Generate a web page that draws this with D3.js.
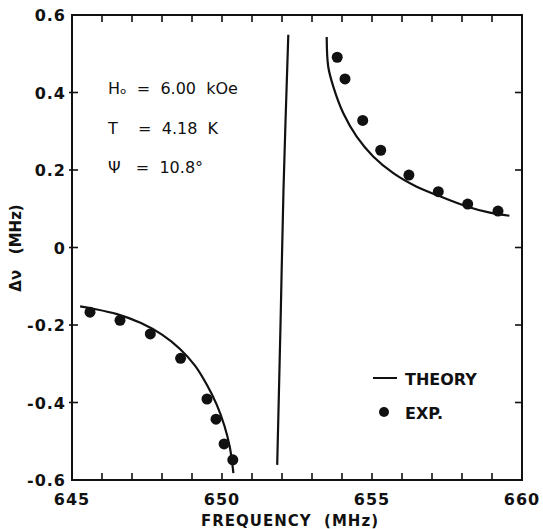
<!DOCTYPE html>
<html>
<head>
<meta charset="utf-8">
<script src="https://cdn.jsdelivr.net/npm/d3@7"></script>
<style>
  body { margin: 0; background: #fff; }
  svg text { font-family: "DejaVu Sans", sans-serif; fill: #111; white-space: pre; }
</style>
</head>
<body>
<svg id="chart" width="543" height="529"></svg>
<script>
// measured points (frequency MHz, shift MHz)
var expLowX  = [645.60, 646.60, 647.61, 648.62, 649.50, 649.80, 650.07, 650.36];
var expLowY  = [-0.167, -0.188, -0.223, -0.286, -0.391, -0.443, -0.507, -0.548];
var expHighX = [653.84, 654.10, 654.69, 655.29, 656.23, 657.21, 658.19, 659.20];
var expHighY = [0.491, 0.435, 0.328, 0.251, 0.187, 0.144, 0.112, 0.094];

// theory branches
var thLowX  = [645.27, 645.71, 646.50, 647.30, 648.00, 648.60, 649.10, 649.50, 649.82, 650.08, 650.26, 650.38];
var thLowY  = [-0.152, -0.158, -0.172, -0.195, -0.225, -0.262, -0.305, -0.355, -0.405, -0.460, -0.515, -0.582];
var thMidX  = [651.84, 651.95, 652.05, 652.21];
var thMidY  = [-0.561, -0.200, 0.150, 0.549];
var thHighX = [653.49, 653.54, 653.71, 654.04, 654.49, 655.04, 655.71, 656.49, 657.27, 658.16, 658.93, 659.58];
var thHighY = [0.543, 0.467, 0.415, 0.347, 0.286, 0.235, 0.192, 0.157, 0.132, 0.106, 0.090, 0.082];

var xTicks = [645, 650, 655, 660];
var yTicks = [0.6, 0.4, 0.2, 0, -0.2, -0.4, -0.6];
var notes = ["H\u2092  =  6.00  kOe", "T    =  4.18  K", "\u03A8   =  10.8\u00B0"];

var svg = d3.select("#chart");
var m = { left: 72, right: 522, top: 15, bottom: 480 };

var x = d3.scaleLinear().domain([645, 660]).range([m.left, m.right]);
var y = d3.scaleLinear().domain([-0.6, 0.6]).range([m.bottom, m.top]);

function zip(xs, ys) { return xs.map(function (v, i) { return [v, ys[i]]; }); }

// frame
svg.append("rect")
  .attr("x", m.left).attr("y", m.top)
  .attr("width", m.right - m.left).attr("height", m.bottom - m.top)
  .attr("fill", "none").attr("stroke", "#111").attr("stroke-width", 2);

// x minor ticks every 1 MHz, inward, bottom and top
var xMinor = d3.range(646, 660, 1);
var tickG = svg.append("g").attr("stroke", "#111").attr("stroke-width", 1.6);
xMinor.forEach(function (v) {
  tickG.append("line").attr("x1", x(v)).attr("x2", x(v)).attr("y1", m.bottom).attr("y2", m.bottom - 7);
  tickG.append("line").attr("x1", x(v)).attr("x2", x(v)).attr("y1", m.top).attr("y2", m.top + 7);
});
yTicks.slice(1, -1).forEach(function (v) {
  tickG.append("line").attr("x1", m.left - 3).attr("x2", m.left + 6).attr("y1", y(v)).attr("y2", y(v));
  tickG.append("line").attr("x1", m.right).attr("x2", m.right - 7).attr("y1", y(v)).attr("y2", y(v));
});

// tick labels
svg.append("g").selectAll("text").data(xTicks).enter().append("text")
  .attr("x", function (d) { return x(d); })
  .attr("y", 505)
  .attr("text-anchor", "middle")
  .attr("font-size", 16)
  .attr("font-weight", "bold")
  .attr("letter-spacing", 1)
  .text(function (d) { return d; });

svg.append("g").selectAll("text").data(yTicks).enter().append("text")
  .attr("x", 66)
  .attr("y", function (d) { return y(d) + 6; })
  .attr("text-anchor", "end")
  .attr("font-size", 16)
  .attr("font-weight", "bold")
  .attr("letter-spacing", 1)
  .text(function (d) { return d === 0 ? "0" : d3.format(".1f")(d).replace("\u2212", "-"); });

// axis titles
svg.append("text")
  .attr("x", 290).attr("y", 526)
  .attr("text-anchor", "middle")
  .attr("font-size", 15).attr("font-weight", "bold")
  .attr("letter-spacing", 1)
  .text("FREQUENCY  (MHz)");

svg.append("text")
  .attr("transform", "translate(21,248) rotate(-90)")
  .attr("text-anchor", "middle")
  .attr("font-size", 15).attr("font-weight", "bold")
  .text("\u0394\u03BD   (MHz)");

// theory curves
var line = d3.line()
  .x(function (d) { return x(d[0]); })
  .y(function (d) { return y(d[1]); })
  .curve(d3.curveCatmullRom);

[zip(thLowX, thLowY), zip(thMidX, thMidY), zip(thHighX, thHighY)].forEach(function (pts) {
  svg.append("path").attr("d", line(pts))
    .attr("fill", "none").attr("stroke", "#111").attr("stroke-width", 2.2);
});

// experimental points
svg.append("g").selectAll("circle")
  .data(zip(expLowX, expLowY).concat(zip(expHighX, expHighY)))
  .enter().append("circle")
  .attr("cx", function (d) { return x(d[0]); })
  .attr("cy", function (d) { return y(d[1]); })
  .attr("r", 5.5)
  .attr("fill", "#111");

// parameters
svg.append("g").selectAll("text").data(notes).enter().append("text")
  .attr("x", 108)
  .attr("y", function (d, i) { return 94 + i * 39.5; })
  .attr("font-size", 16)
  .text(function (d) { return d; });

// legend
svg.append("line").attr("x1", 373).attr("x2", 397).attr("y1", 378).attr("y2", 378)
  .attr("stroke", "#111").attr("stroke-width", 2);
svg.append("text").attr("x", 405).attr("y", 385)
  .attr("font-size", 16).attr("font-weight", "bold")
  .attr("font-family", "'Liberation Sans Narrow', 'DejaVu Sans Condensed', sans-serif")
  .text("THEORY");
svg.append("circle").attr("cx", 384).attr("cy", 412).attr("r", 5).attr("fill", "#111");
svg.append("text").attr("x", 405).attr("y", 419)
  .attr("font-size", 16).attr("font-weight", "bold")
  .attr("font-family", "'Liberation Sans Narrow', 'DejaVu Sans Condensed', sans-serif")
  .text("EXP.");
</script>
</body>
</html>
